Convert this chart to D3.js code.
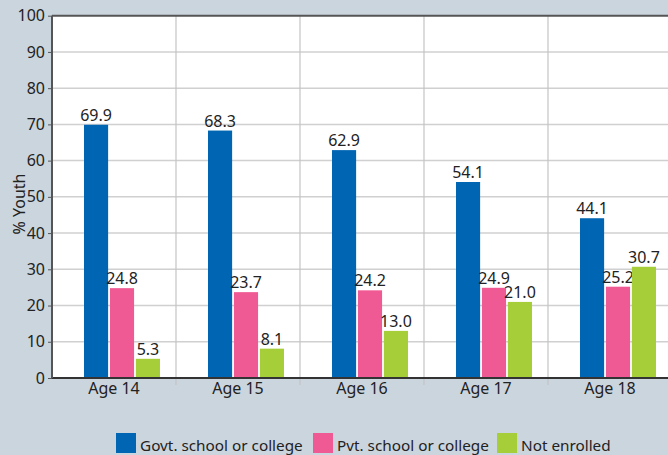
<!DOCTYPE html>
<html>
<head>
<meta charset="utf-8">
<script src="https://cdn.jsdelivr.net/npm/d3@7"></script>
<style>
  body { margin: 0; background: #cbd5de; }
  svg { display: block; font-family: "Noto Sans", "Open Sans", sans-serif; }
</style>
</head>
<body>
<div id="chart"></div>
<script>
// data
const ages = ["Age 14", "Age 15", "Age 16", "Age 17", "Age 18"];
const seriesNames = ["Govt. school or college", "Pvt. school or college", "Not enrolled"];
const govt = [69.9, 68.3, 62.9, 54.1, 44.1];
const pvt = [24.8, 23.7, 24.2, 24.9, 25.2];
const notEnrolled = [5.3, 8.1, 13.0, 21.0, 30.7];
const yTicks = [0, 10, 20, 30, 40, 50, 60, 70, 80, 90, 100];

const colors = ["#0066b3", "#f05a94", "#a6ce39"];
const values = [govt, pvt, notEnrolled];
const fontFam = "Noto Sans, Open Sans, sans-serif";
const fs = 16;

const W = 668, H = 455;
const margin = {top: 15.7, left: 52, bottom: 77};
const plotW = 620, plotH = H - margin.top - margin.bottom;

const svg = d3.select("#chart").append("svg")
    .attr("width", W)
    .attr("height", H);

const g = svg.append("g")
    .attr("transform", "translate(" + margin.left + "," + margin.top + ")");

// scales
const x = d3.scaleBand().domain(ages).range([0, plotW]);
const xs = d3.scaleBand().domain(d3.range(3)).range([32, 108]).paddingInner(0.07);
const y = d3.scaleLinear().domain([0, 100]).range([plotH, 0]);

// white plot background
g.append("rect")
    .attr("width", plotW)
    .attr("height", plotH)
    .attr("fill", "#fff");

// horizontal grid
g.selectAll(".hgrid")
    .data(yTicks.slice(1, -1))
    .enter().append("line")
    .attr("x1", 0).attr("x2", plotW)
    .attr("y1", d => y(d)).attr("y2", d => y(d))
    .attr("stroke", "#d0d0d0")
    .attr("stroke-width", 1.5);

// vertical grid at category boundaries
g.selectAll(".vgrid")
    .data(ages.slice(1))
    .enter().append("line")
    .attr("x1", d => x(d)).attr("x2", d => x(d))
    .attr("y1", 0).attr("y2", plotH + 7)
    .attr("stroke", "#c4c4c4")
    .attr("stroke-width", 1.2);

// bars
const groups = g.selectAll(".grp")
    .data(ages)
    .enter().append("g")
    .attr("transform", d => "translate(" + x(d) + ",0)");

groups.each(function(age, i) {
    const grp = d3.select(this);
    values.forEach(function(vals, s) {
        const v = vals[i];
        grp.append("rect")
            .attr("x", xs(s))
            .attr("width", xs.bandwidth())
            .attr("y", y(v))
            .attr("height", plotH - y(v))
            .attr("fill", colors[s]);
        grp.append("text")
            .attr("x", xs(s) + xs.bandwidth() / 2)
            .attr("y", y(v) - 4)
            .attr("text-anchor", "middle")
            .attr("font-size", fs)
            .attr("fill", "#222")
            .text(v.toFixed(1));
    });
});

// y axis
const yAxis = g.append("g")
    .call(d3.axisLeft(y).tickValues(yTicks).tickSize(4).tickPadding(3));
yAxis.select(".domain").remove();
yAxis.selectAll(".tick line").attr("stroke", "#555");
yAxis.selectAll("text").attr("font-size", fs).attr("fill", "#222")
    .attr("font-family", fontFam);

// x axis labels
const xAxis = g.append("g")
    .attr("transform", "translate(0," + plotH + ")")
    .call(d3.axisBottom(x).tickSize(0).tickPadding(5));
xAxis.select(".domain").remove();
xAxis.selectAll("text").attr("font-size", fs).attr("fill", "#222")
    .attr("font-family", fontFam);

// frame lines: top, bottom, left
g.append("line").attr("x1", 0).attr("x2", plotW).attr("y1", 0).attr("y2", 0)
    .attr("stroke", "#555").attr("stroke-width", 2);
g.append("line").attr("x1", 0).attr("x2", plotW).attr("y1", plotH).attr("y2", plotH)
    .attr("stroke", "#333").attr("stroke-width", 2);
g.append("line").attr("x1", 0).attr("x2", 0).attr("y1", 0).attr("y2", plotH)
    .attr("stroke", "#555").attr("stroke-width", 2);

// y title
svg.append("text")
    .attr("transform", "translate(25,204) rotate(-90)")
    .attr("text-anchor", "middle")
    .attr("font-size", 16)
    .attr("fill", "#222")
    .text("% Youth");

// legend
const legendX = [116, 313, 497];
const legend = svg.selectAll(".leg")
    .data(seriesNames)
    .enter().append("g")
    .attr("transform", (d, i) => "translate(" + legendX[i] + ",433)");
legend.append("rect")
    .attr("width", 20).attr("height", 20)
    .attr("fill", (d, i) => colors[i]);
legend.append("text")
    .attr("x", 24).attr("y", 18)
    .attr("font-size", 15.3)
    .attr("fill", "#222")
    .text(d => d);
</script>
</body>
</html>
